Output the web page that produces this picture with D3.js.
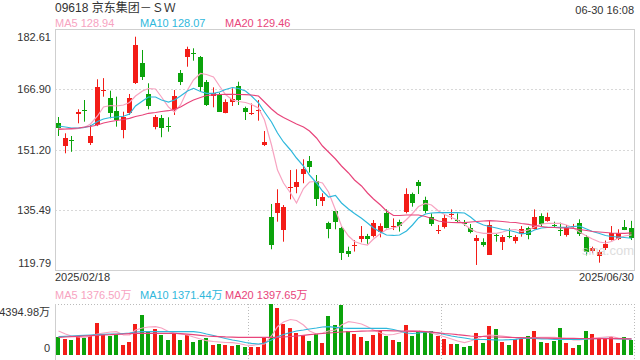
<!DOCTYPE html>
<html>
<head>
<meta charset="utf-8">
<script src="https://cdn.jsdelivr.net/npm/d3@7"></script>
<style>
body { margin: 0; background: #fff; }
text { font-family: "Liberation Sans", Arial, "Noto Sans CJK SC", sans-serif; }
</style>
</head>
<body>
<div id="chart"></div>
<script>
var width = 640;
var height = 360;

// plot area
var left = 55, right = 634;
var priceTop = 29, priceBottom = 270;
var volTop = 304, volBottom = 355;

// texts
var title = "09618 京东集团－ＳＷ";
var stamp = "06-30 16:08";
var firstDay = "2025/02/18";
var lastDay = "2025/06/30";
var priceTicks = [182.61, 166.90, 151.20, 135.49, 119.79];
var volTicks = [4394.98, 0];
var maLabels = ["MA5 128.94", "MA10 128.07", "MA20 129.46"];
var volMaLabels = ["MA5 1376.50万", "MA10 1371.44万", "MA20 1397.65万"];
var maColors = ["#f7a3c1", "#2fb8dc", "#e8457b"];
var upColor = "#f31c17";
var downColor = "#0ba30b";

// daily candles 2025/02/18 - 2025/06/30
var open = [158.03,151.93,153.8,160.64,161.5,152.97,157.59,166.45,164.55,161.24,
  156.28,160.64,168.46,173.67,165.67,156.98,159.33,157.4,161.5,171.22,
  175.23,176.27,175.23,168.7,164.97,165.41,160.79,163.4,167.75,161.93,
  160.5,161.24,152.46,133.68,134.73,130.03,141.18,141.5,144.82,148.2,
  143.07,137.86,132.12,135.17,130.82,124.73,126.1,127.8,128.65,128.65,
  129.8,134.73,130.9,132.38,134.99,139.6,142.65,138.03,133.52,130.03,
  130.9,134.12,132.82,132.38,130.65,127.17,127.17,123.7,128.9,127.17,
  128.65,127.43,129.18,130.65,130.65,133.86,132.64,131.51,130.22,128.9,
  131.1,132.12,128.48,124.56,123.26,125.5,127.78,128.05,131.08,130.65];
var close = [156.73,154.12,153.6,161.06,161.2,154.72,167.57,166.71,160.64,158.89,
  159.6,164.55,178.44,170.02,162.54,159.6,156.73,157.15,165.15,168.87,
  177.32,176.0,167.4,162.8,165.85,161.06,163.66,164.28,164.1,160.79,
  160.79,161.5,153.15,126.31,137.34,136.12,141.36,142.73,146.12,146.56,
  138.38,138.81,130.48,132.38,124.28,123.96,126.31,128.65,127.87,131.96,
  131.25,130.9,131.25,131.3,139.6,137.17,141.5,135.25,131.78,130.22,
  133.25,134.38,132.6,131.96,129.5,128.05,126.31,131.51,128.65,128.48,
  128.48,128.48,130.4,128.9,133.69,131.78,133.69,131.3,130.0,130.65,
  131.3,129.35,124.6,125.4,124.4,126.6,129.5,129.5,130.4,128.05];
var high = [159.67,155.42,154.72,161.68,164.1,157.59,169.5,169.8,166.53,164.97,
  161.06,165.67,180.6,177.14,168.46,160.2,160.2,159.6,166.71,171.92,
  178.0,177.58,175.57,169.32,167.4,166.0,164.28,167.15,168.87,162.37,
  163.19,164.1,156.02,137.0,140.83,136.73,145.86,146.04,148.65,149.5,
  144.55,139.79,132.38,135.6,131.08,125.87,127.6,131.25,129.2,132.82,
  131.96,135.6,133.25,132.9,141.09,139.97,143.25,138.9,134.56,131.51,
  134.38,135.6,134.56,132.82,131.78,128.9,128.05,132.82,129.18,128.9,
  130.65,128.9,131.25,131.08,135.6,134.56,134.73,132.38,132.12,131.51,
  131.8,133.0,128.9,125.87,125.0,127.47,131.25,130.4,132.82,132.6];
var low = [154.72,150.21,150.6,158.03,158.45,152.37,157.3,164.97,159.33,157.15,
  154.12,160.2,168.27,169.32,161.68,156.46,154.4,155.84,160.2,168.0,
  172.78,174.35,166.27,162.54,162.2,161.06,160.64,162.54,162.8,158.89,
  160.2,158.71,152.1,125.19,132.38,127.17,138.2,139.79,142.4,145.2,
  136.47,136.47,128.05,130.4,122.4,123.2,124.6,127.0,126.6,128.3,
  128.3,130.65,130.2,129.8,134.56,136.3,139.6,134.56,131.25,129.18,
  130.6,133.0,132.1,131.25,129.35,121.1,125.87,123.7,127.17,125.0,
  128.05,126.7,128.48,127.8,130.4,131.08,132.38,130.9,128.65,128.48,
  130.7,128.65,123.6,124.15,121.7,125.0,127.47,127.6,130.2,127.6];

// volume, in 万 shares
var volume = [1525,1353,1293,1637,1439,1637,2758,1724,1637,1810,
  862,1146,2671,3447,2008,2241,1724,1293,1870,1293,
  1724,1146,1293,1439,862,948,862,776,862,715,
  664,664,1525,4394.98,4024,2671,2301,1922,1724,1232,
  1810,1060,3361,2585,4309,2068,1810,1525,1206,1724,
  2068,1637,1293,1146,2585,1663,2154,2068,2094,1637,
  1379,948,948,715,776,1922,1060,2499,2241,1146,
  862,1353,1353,1637,2068,1146,1060,1232,2301,1060,
  629,862,2094,1810,1353,1353,1525,1060,1577,1293];

// price moving averages as shown
var ma5 = [156.73,156.54,156.47,156.68,156.94,157.85,159.93,162.28,162.67,162.54,
  162.8,163.45,165.15,166.45,167.1,166.97,164.89,162.28,160.98,162.8,
  166.71,169.32,171.01,170.75,170.1,167.75,165.54,164.1,163.71,163.45,
  162.93,162.02,158.89,152.37,145.85,142.47,139.86,137.26,141.04,142.73,
  142.86,142.47,140.12,135.43,131.26,128.65,127.22,126.57,126.31,127.87,
  129.31,130.35,130.74,131.26,132.96,134.52,136.34,137.13,136.73,135.17,
  134.26,133.48,132.83,131.65,130.48,129.7,129.36,129.36,129.36,129.7,
  130.22,130.35,129.83,130.22,131.0,131.78,131.96,131.96,131.96,131.52,
  130.74,129.7,128.65,127.87,127.09,126.83,127.22,128.13,128.65,128.94];
var ma10 = [157.33,157.07,156.81,156.81,156.94,157.33,158.5,159.15,159.54,159.67,
  159.86,160.45,162.54,163.84,164.89,164.89,164.1,163.58,164.1,165.15,
  166.45,167.15,166.32,165.85,165.85,166.19,166.84,167.36,167.1,166.45,
  165.15,163.32,160.98,158.37,155.5,153.16,151.07,148.98,146.9,144.55,
  142.47,140.38,138.82,139.21,137.26,135.69,134.52,133.27,132.04,130.74,
  129.7,128.92,128.79,128.92,129.96,131.52,133.35,134.39,134.65,134.73,
  134.73,134.73,134.73,134.65,133.61,132.3,131.52,131.13,130.74,130.35,
  130.09,129.7,129.23,129.44,130.22,130.74,130.92,130.92,130.92,130.92,
  131.13,131.26,130.48,129.83,129.31,128.79,128.52,128.39,128.26,128.07];
var ma20 = [156.47,156.54,156.68,156.81,157.07,157.2,157.59,158.11,158.5,158.76,
  159.02,159.33,159.8,160.19,160.64,160.85,161.11,161.31,161.63,162.28,
  163.32,164.1,164.75,165.28,165.46,165.54,165.59,165.59,165.54,165.49,
  165.41,165.15,163.58,161.76,160.45,159.54,158.63,157.85,157.07,156.02,
  154.2,152.11,150.55,148.72,146.9,145.08,143.25,141.69,139.86,138.3,
  136.73,135.17,134.0,134.0,134.13,134.13,134.13,133.74,133.22,132.56,
  132.3,132.17,132.12,132.12,132.3,132.43,132.56,132.64,132.56,132.43,
  132.23,132.17,131.91,131.7,131.39,131.13,130.92,130.87,130.74,130.74,
  130.66,130.35,130.09,129.83,129.7,129.57,129.44,129.36,129.36,129.46];

// volume moving averages as shown
var vma5 = [2068,1810,1637,1551,1525,1637,1810,1896,1982,2008,
  1724,1724,2154,2327,2413,2439,2327,2025,1896,1810,
  1724,1551,1379,1232,1163,1120,1077,1060,991,862,
  836,905,948,1637,2439,2844,3059,2973,2585,2068,
  1810,1896,2068,2154,2585,2870,2801,2671,2439,2154,
  1896,1724,1767,1896,2068,2094,2111,2025,1896,1724,
  1577,1379,1206,1060,1206,1379,1637,1724,1680,1637,
  1551,1465,1439,1465,1508,1525,1525,1525,1465,1422,
  1293,1293,1379,1439,1508,1551,1577,1465,1422,1376.5];
var vma10 = [1577,1611,1637,1680,1698,1724,1749,1784,1810,1810,
  1853,1896,1982,2008,2008,2008,2008,2008,2008,2008,
  2008,2008,1939,1810,1680,1551,1422,1293,1206,1077,
  1008,948,1034,1293,1577,1767,1939,2068,2154,2241,
  2327,2413,2439,2387,2327,2301,2301,2301,2301,2301,
  2301,2301,2197,2068,1896,1853,1896,1982,1982,1896,
  1767,1637,1551,1465,1379,1353,1336,1318,1293,1293,
  1318,1353,1422,1439,1422,1396,1379,1353,1353,1353,
  1353,1353,1379,1405,1422,1439,1422,1396,1379,1371.44];
var vma20 = [1525,1551,1577,1611,1637,1663,1698,1724,1749,1784,
  1810,1836,1870,1870,1870,1870,1870,1870,1870,1836,
  1792,1749,1698,1637,1611,1586,1560,1543,1525,1525,
  1525,1525,1525,1525,1525,1551,1594,1637,1698,1749,
  1810,1853,1896,1939,1982,2008,2025,2051,2068,2085,
  2094,2094,2085,2068,2051,2034,2025,2008,1965,1913,
  1853,1810,1749,1698,1637,1611,1594,1568,1551,1534,
  1525,1508,1499,1482,1474,1465,1448,1439,1439,1431,
  1431,1422,1422,1413,1413,1405,1405,1405,1396,1397.65];


var svg = d3.select("#chart")
  .append("svg")
  .attr("width", width)
  .attr("height", height);

// scales
var x = d3.scaleBand().domain(d3.range(open.length)).range([left, right]);
var y = d3.scaleLinear().domain([priceTicks[4], priceTicks[0]]).range([priceBottom, priceTop]);
var yVol = d3.scaleLinear().domain([0, volTicks[0]]).range([volBottom, volTop]);
var cx = function (i) { return Math.round(x(i) + x.bandwidth() / 2) + 0.5; };

// header
svg.append("text")
  .attr("x", left)
  .attr("y", 12)
  .attr("font-size", "12px")
  .attr("fill", "#333")
  .attr("font-family", "'Liberation Sans', 'Noto Sans CJK SC', sans-serif")
  .text(title);

svg.append("text")
  .attr("x", right)
  .attr("y", 14)
  .attr("font-size", "11px")
  .attr("fill", "#333")
  .attr("text-anchor", "end")
  .text(stamp);

var legendX = [left, 140, 225];
svg.selectAll(".maLegend")
  .data(maLabels)
  .enter()
  .append("text")
  .attr("class", "maLegend")
  .attr("x", function (d, i) { return legendX[i]; })
  .attr("y", 27)
  .attr("font-size", "11px")
  .attr("fill", function (d, i) { return maColors[i]; })
  .text(function (d) { return d; });

// gridlines of the price panel
svg.selectAll(".grid")
  .data(priceTicks.slice(1, 4))
  .enter()
  .append("line")
  .attr("class", "grid")
  .attr("x1", left)
  .attr("x2", right)
  .attr("y1", function (d) { return Math.round(y(d)) + 0.5; })
  .attr("y2", function (d) { return Math.round(y(d)) + 0.5; })
  .attr("stroke", "#d8d8d8")
  .attr("stroke-dasharray", "2,2");

svg.append("rect")
  .attr("x", left + 0.5)
  .attr("y", priceTop + 0.5)
  .attr("width", right - left)
  .attr("height", priceBottom - priceTop)
  .attr("fill", "none")
  .attr("stroke", "#cfcfcf");

// price axis labels
var yAxis = d3.axisLeft(y)
  .tickValues(priceTicks)
  .tickSize(0)
  .tickPadding(4)
  .tickFormat(d3.format(".2f"));

var yAxisG = svg.append("g")
  .attr("transform", "translate(" + left + ",0)")
  .call(yAxis);
yAxisG.select(".domain").remove();
yAxisG.selectAll("text")
  .attr("font-size", "11px")
  .attr("fill", "#333")
  .attr("font-family", "'Liberation Sans', Arial, sans-serif")
  .attr("dy", function (d, i) {
    if (i === 0) return "1.0em";
    if (i === priceTicks.length - 1) return "-0.35em";
    return "0.32em";
  });

// candles
var candles = svg.selectAll(".candle")
  .data(d3.range(open.length))
  .enter()
  .append("g")
  .attr("class", "candle");

var colorOf = function (i) { return close[i] >= open[i] ? upColor : downColor; };

candles.append("line")
  .attr("x1", cx)
  .attr("x2", cx)
  .attr("y1", function (i) { return y(high[i]); })
  .attr("y2", function (i) { return y(low[i]); })
  .attr("stroke", colorOf)
  .attr("stroke-width", 1);

candles.append("rect")
  .attr("x", function (i) { return cx(i) - 3; })
  .attr("width", 5)
  .attr("y", function (i) { return Math.round(y(Math.max(open[i], close[i]))); })
  .attr("height", function (i) {
    return Math.max(1, Math.round(Math.abs(y(open[i]) - y(close[i]))));
  })
  .attr("fill", colorOf)
  .attr("shape-rendering", "crispEdges");

// price MA lines
var priceLine = d3.line()
  .x(function (d, i) { return cx(i); })
  .y(function (d) { return y(d); });

[ma5, ma10, ma20].forEach(function (series, k) {
  svg.append("path")
    .datum(series)
    .attr("d", priceLine)
    .attr("fill", "none")
    .attr("stroke", maColors[k])
    .attr("stroke-width", 1.2);
});

// watermark
svg.append("text")
  .attr("x", 582)
  .attr("y", 255)
  .attr("font-size", "13px")
  .attr("fill", "#d6d6d6")
  .attr("opacity", 0.8)
  .text("sina.com");

// date labels
svg.append("text")
  .attr("x", left)
  .attr("y", 281)
  .attr("font-size", "11px")
  .attr("fill", "#333")
  .text(firstDay);

svg.append("text")
  .attr("x", right)
  .attr("y", 281)
  .attr("font-size", "11px")
  .attr("fill", "#333")
  .attr("text-anchor", "end")
  .text(lastDay);

// volume legend
svg.selectAll(".volLegend")
  .data(volMaLabels)
  .enter()
  .append("text")
  .attr("class", "volLegend")
  .attr("x", function (d, i) { return legendX[i]; })
  .attr("y", 299)
  .attr("font-size", "11px")
  .attr("fill", function (d, i) { return maColors[i]; })
  .attr("font-family", "'Liberation Sans', 'Noto Sans CJK SC', sans-serif")
  .text(function (d) { return d; });

// volume panel frame
svg.append("line")
  .attr("x1", left).attr("x2", right)
  .attr("y1", volTop + 0.5).attr("y2", volTop + 0.5)
  .attr("stroke", "#bbb")
  .attr("stroke-dasharray", "1,2");

svg.append("line")
  .attr("x1", right + 0.5).attr("x2", right + 0.5)
  .attr("y1", volTop).attr("y2", height)
  .attr("stroke", "#bbb")
  .attr("stroke-dasharray", "1,2");

svg.selectAll(".volGrid")
  .data([1, 2])
  .enter()
  .append("line")
  .attr("class", "volGrid")
  .attr("x1", function (d) { return Math.round(left + (right - left) * d / 3) + 0.5; })
  .attr("x2", function (d) { return Math.round(left + (right - left) * d / 3) + 0.5; })
  .attr("y1", volTop)
  .attr("y2", height)
  .attr("stroke", "#bbb")
  .attr("stroke-dasharray", "1,2");

svg.append("line")
  .attr("x1", left + 0.5).attr("x2", left + 0.5)
  .attr("y1", volTop).attr("y2", height)
  .attr("stroke", "#cfcfcf");

// volume axis labels
var volAxis = d3.axisLeft(yVol)
  .tickValues(volTicks)
  .tickSize(0)
  .tickPadding(4)
  .tickFormat(function (d) { return d === 0 ? "0" : d3.format(".2f")(d) + "万"; });

var volAxisG = svg.append("g")
  .attr("transform", "translate(" + (left - 1) + ",0)")
  .call(volAxis);
volAxisG.select(".domain").remove();
volAxisG.selectAll("text")
  .attr("font-size", "11px")
  .attr("fill", "#333")
  .attr("font-family", "'Liberation Sans', 'Noto Sans CJK SC', sans-serif")
  .attr("dy", function (d) { return d === 0 ? "-0.3em" : "1.0em"; });

// volume bars
svg.selectAll(".vol")
  .data(d3.range(volume.length))
  .enter()
  .append("rect")
  .attr("class", "vol")
  .attr("x", function (i) { return cx(i) - 2.5; })
  .attr("width", 4)
  .attr("y", function (i) { return Math.round(yVol(volume[i])); })
  .attr("height", function (i) { return volBottom - Math.round(yVol(volume[i])); })
  .attr("fill", colorOf)
  .attr("shape-rendering", "crispEdges");

// volume MA lines
var volLine = d3.line()
  .x(function (d, i) { return cx(i); })
  .y(function (d) { return yVol(d); });

[vma5, vma10, vma20].forEach(function (series, k) {
  svg.append("path")
    .datum(series)
    .attr("d", volLine)
    .attr("fill", "none")
    .attr("stroke", maColors[k])
    .attr("stroke-width", 1.2);
});
</script>
</body>
</html>
